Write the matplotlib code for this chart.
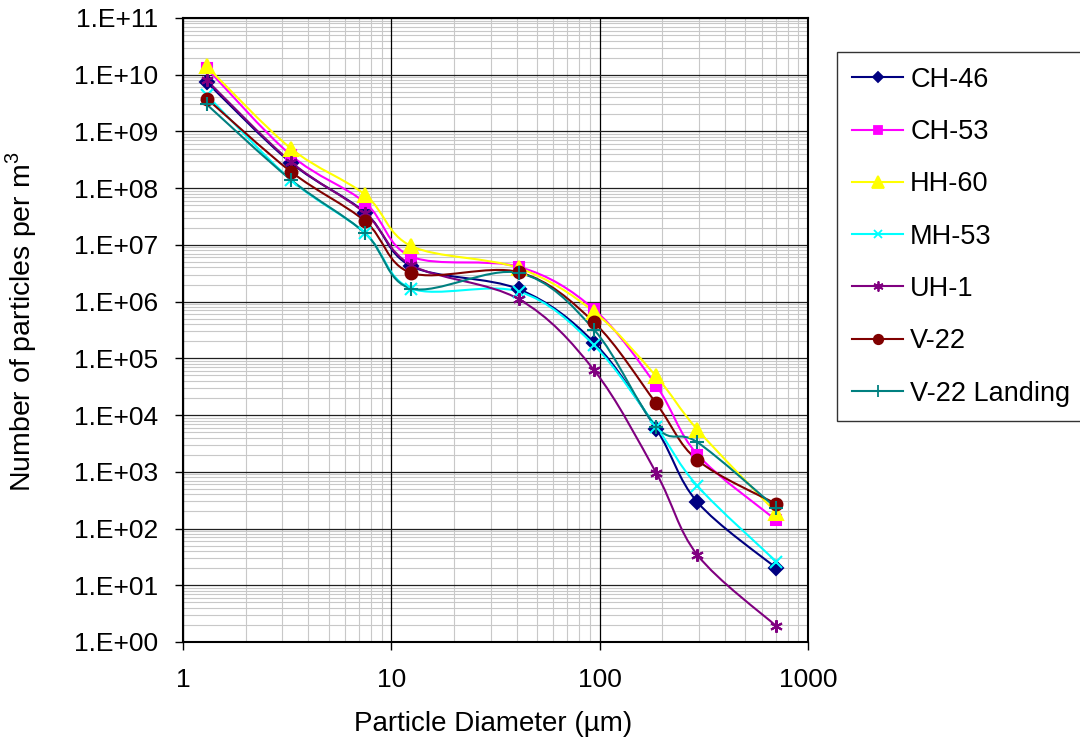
import numpy as np
import matplotlib.pyplot as plt
from matplotlib.path import Path
from matplotlib.patches import PathPatch
from matplotlib.lines import Line2D
from matplotlib.ticker import FixedLocator, NullLocator, FuncFormatter

plt.rcParams["font.family"] = ["Liberation Sans", "DejaVu Sans"]
plt.rcParams["mathtext.fontset"] = "custom"
plt.rcParams["mathtext.rm"] = "Liberation Sans"

# particle diameters (µm)
diameter = [1.3, 3.3, 7.5, 12.5, 41, 94, 187, 295, 705]

# number of particles per m3 for each aircraft
ch46 = [7.4e9, 2.8e8, 3.7e7, 4.2e6, 1.65e6, 1.9e5, 5.7e3, 2.9e2, 2.0e1]
ch53 = [1.3e10, 3.8e8, 5.5e7, 6.2e6, 4.1e6, 7.3e5, 3.3e4, 2.0e3, 1.4e2]
hh60 = [1.4e10, 5.0e8, 7.6e7, 9.5e6, 3.9e6, 6.6e5, 4.8e4, 5.5e3, 1.9e2]
mh53 = [4.4e9, 1.4e8, 1.6e7, 1.7e6, 1.5e6, 1.7e5, 6.2e3, 5.6e2, 2.6e1]
uh1 = [8.0e9, 2.9e8, 3.6e7, 4.4e6, 1.1e6, 6.2e4, 9.5e2, 3.4e1, 1.9e0]
v22 = [3.8e9, 1.95e8, 2.6e7, 3.2e6, 3.3e6, 4.3e5, 1.6e4, 1.6e3, 2.7e2]
v22_landing = [3.0e9, 1.4e8, 1.6e7, 1.7e6, 3.2e6, 3.2e5, 6.2e3, 3.3e3, 2.3e2]

labels = ["CH-46", "CH-53", "HH-60", "MH-53", "UH-1", "V-22", "V-22 Landing"]
series = [ch46, ch53, hh60, mh53, uh1, v22, v22_landing]
colors = ["#000080", "#FF00FF", "#FFFF00", "#00FFFF", "#800080", "#800000", "#008080"]
markers = ["D", "s", "^", "x", (6, 2, 0), "o", "+"]
sizes = [7, 7, 10, 8, 9, 8.5, 10]

y_ticks = [10.0 ** k for k in range(0, 12)]
x_ticks = [1, 10, 100, 1000]
minor_x = [m * 10.0 ** k for k in range(0, 3) for m in range(2, 10)]
minor_y = [m * 10.0 ** k for k in range(0, 11) for m in range(2, 10)]


def smooth_path(x, y):
    """Excel-like smoothed line: Catmull-Rom Bezier in log space."""
    pts = np.column_stack([np.log10(x), np.log10(y)])
    n = len(pts)
    verts = [pts[0]]
    codes = [Path.MOVETO]
    for i in range(n - 1):
        p0 = pts[max(i - 1, 0)]
        p1 = pts[i]
        p2 = pts[i + 1]
        p3 = pts[min(i + 2, n - 1)]
        verts += [p1 + (p2 - p0) / 6, p2 - (p3 - p1) / 6, p2]
        codes += [Path.CURVE4] * 3
    return Path(10.0 ** np.array(verts), codes)


fig = plt.figure(figsize=(10.8, 7.49), dpi=100)
ax = fig.add_axes([0.1694, 0.1429, 0.5787, 0.8331])

ax.set_xscale("log")
ax.set_yscale("log")
ax.set_xlim(1, 1000)
ax.set_ylim(1, 1e11)

# grid: light minor lines, dark major lines
for v in minor_x:
    ax.axvline(v, color="#c8c8c8", lw=0.8, zorder=0.5)
for v in minor_y:
    ax.axhline(v, color="#c8c8c8", lw=0.8, zorder=0.5)
for v in x_ticks:
    ax.axvline(v, color="black", lw=0.9, zorder=1)
for v in y_ticks:
    ax.axhline(v, color="#202020", lw=0.9, zorder=1)

ax.xaxis.set_major_locator(FixedLocator(x_ticks))
ax.yaxis.set_major_locator(FixedLocator(y_ticks))
ax.xaxis.set_minor_locator(NullLocator())
ax.yaxis.set_minor_locator(NullLocator())
ax.xaxis.set_major_formatter(FuncFormatter(lambda v, p: "%d" % v))
ax.yaxis.set_major_formatter(FuncFormatter(lambda v, p: "1.E+%02d" % round(np.log10(v))))
ax.tick_params(axis="y", direction="out", length=6, width=1, labelsize=19, pad=12)
ax.tick_params(axis="x", direction="out", length=6, width=1, labelsize=19, pad=13)
for s in ax.spines.values():
    s.set_color("black")
    s.set_linewidth(1.5)

# smoothed lines and markers
handles = []
for vals, lab, col, mk, ms in zip(series, labels, colors, markers, sizes):
    ax.add_patch(PathPatch(smooth_path(diameter, vals), fill=False,
                           edgecolor=col, lw=1.5, zorder=3))
    ax.plot(diameter, vals, ls="none", marker=mk, ms=ms, color=col,
            mec=col, mew=1.5, zorder=4, clip_on=False)
    handles.append(Line2D([], [], color=col, lw=1.5, marker=mk,
                          ms=ms * 0.8, mew=1.3, label=lab))

ax.set_xlabel("Particle Diameter (µm)", fontsize=20)
ax.xaxis.set_label_coords(0.497, -0.11)
ax.set_ylabel("Number of particles per m$^\\mathregular{3}$", fontsize=20.5)
ax.yaxis.set_label_coords(-0.23, 0.513)

fig.legend(handles=handles, loc="upper left", bbox_to_anchor=(0.775, 0.9306),
           frameon=True, fancybox=False, edgecolor="black", fontsize=19.5,
           labelspacing=0.97, handlelength=1.9, handletextpad=0.25,
           borderpad=0.55, borderaxespad=0)

plt.savefig("out.png", dpi=100)
